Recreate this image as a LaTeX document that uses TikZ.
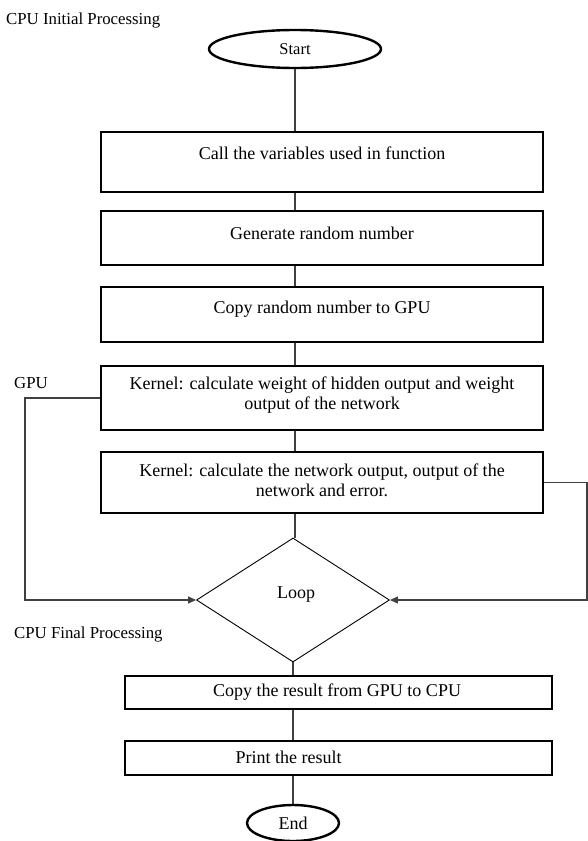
\documentclass[tikz,border=0pt]{standalone}
\usepackage{fontspec}
\setmainfont{Liberation Serif}
\usetikzlibrary{shapes.geometric,arrows.meta}

\tikzset{
    procbox/.style={draw, line width=2.4pt, inner sep=0pt, minimum width=442pt},
    endbox/.style={draw, line width=2.4pt, inner sep=0pt, minimum width=427pt},
    terminal/.style={draw, ellipse, line width=2.4pt, inner sep=0pt},
    flow/.style={draw=black!75, line width=1.1pt},
    flowarrow/.style={flow, -{Triangle[length=8pt,width=7pt]}},
    sidelabel/.style={anchor=west, inner sep=0pt, font=\fontsize{16.8}{20}\selectfont}
}

\begin{document}
\begin{tikzpicture}[x=1pt, y=-1pt, font=\fontsize{18}{20}\selectfont]
    \useasboundingbox (0,0) rectangle (588,841);

    % CPU initial processing
    \node[sidelabel] (cpuinit) at (6,20) {CPU Initial Processing};
    \node[terminal, minimum width=172pt, minimum height=38pt, font=\fontsize{16.5}{20}\selectfont] (start) at (295,49) {Start};
    \node[procbox, minimum height=60pt, label={[yshift=9pt]center:Call the variables used in function}] (b1) at (322,162) {};
    \node[procbox, minimum height=54pt, label={[yshift=5pt]center:Generate random number}] (b2) at (322,238) {};
    \node[procbox, minimum height=55pt, label={[yshift=5pt]center:Copy random number to GPU}] (b3) at (322,314.5) {};

    % GPU kernels
    \node[sidelabel] (gpu) at (14,383) {GPU};
    \node[procbox, minimum height=64pt, label={[yshift=3pt, align=center]center:Kernel: calculate weight of hidden output and weight\\output of the network}] (b4) at (322,398) {};
    \node[procbox, minimum height=61pt, label={[yshift=2.5pt, align=center]center:Kernel: calculate the network output, output of the\\network and error.}] (b5) at (322,482.5) {};
    \node[draw, diamond, line width=0.9pt, inner sep=0pt, minimum width=193pt, minimum height=124pt] (loop) at (293,600) {};
    \node (looptext) at (296,595) {Loop};

    % CPU final processing
    \node[sidelabel] (cpufinal) at (14,634) {CPU Final Processing};
    \node[endbox, minimum height=33pt, label={[xshift=-1.5pt]center:Copy the result from GPU to CPU}] (b6) at (338.5,692.5) {};
    \node[endbox, minimum height=34pt, label={[xshift=-50pt, yshift=1pt]center:Print the result}] (b7) at (338.5,758) {};
    \node[terminal, minimum width=92pt, minimum height=36pt] (finish) at (293,823) {End};

    \coordinate (lft) at (25,600);
    \coordinate (rgt) at (587,600);

    % connectors
    \draw[flow] (start) -- (start |- b1.north);
    \draw[flow] (b1.south -| start) -- (b2.north -| start);
    \draw[flow] (b2.south -| start) -- (b3.north -| start);
    \draw[flow] (b3.south -| start) -- (b4.north -| start);
    \draw[flow] (b4.south -| start) -- (b5.north -| start);
    \draw[flow] (b5.south -| start) -- (loop.north -| start);
    \draw[flow] (loop.south) -- (b6.north -| loop.south);
    \draw[flow] (b6.south -| loop.south) -- (b7.north -| loop.south);
    \draw[flow] (b7.south -| loop.south) -- (finish);
    \draw[flowarrow] (b4.west) -| (lft) -- (loop.west);
    \draw[flowarrow] (b5.east) -| (rgt) -- (loop.east);
\end{tikzpicture}
\end{document}
